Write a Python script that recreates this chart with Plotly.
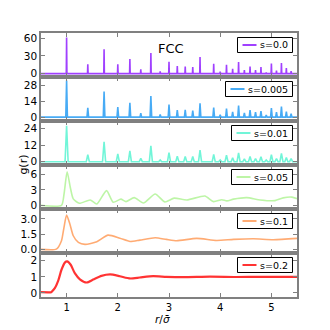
import plotly.graph_objects as go
from plotly.subplots import make_subplots

# FCC neighbour shells (r/sigma) and peak heights
shell_r = [1.0, 1.414, 1.732, 2.0, 2.236, 2.449, 2.646, 2.828, 3.0, 3.162,
           3.317, 3.464, 3.606, 3.873, 4.0, 4.123, 4.243, 4.359, 4.472, 4.583,
           4.690, 4.796, 4.899, 5.0, 5.099, 5.196, 5.292, 5.385]
peaks_s000 = [61, 15.6, 41, 15.6, 24.6, 7.2, 35, 4, 20, 13, 12, 11, 28, 16.8,
              3.6, 15, 8, 19.5, 6, 12, 6, 11, 2, 17, 5, 18, 9.5, 4.5]
peaks_s005 = [32.5, 8.3, 22.7, 8.9, 12.7, 3.5, 18.9, 2.4, 11.2, 6.2, 6.5, 5.9,
              12.4, 8.6, 2.1, 7.7, 4.7, 10.3, 3.8, 6.2, 4.4, 5.3, 2.0, 8.0,
              4.4, 9.4, 5.0, 3.2]
peaks_s010 = [26, 5.0, 14.4, 5.6, 7.8, 2.5, 11.4, 1.3, 6.6, 4.0, 3.8, 3.8, 8.3,
              5.3, 1.3, 4.6, 2.8, 6.3, 2.0, 3.8, 2.3, 3.5, 1.3, 5.0, 2.3, 6.0,
              3.0, 2.3]

# smoother curves for the larger polydispersities
r_s050 = [0.5, 0.9, 0.95, 1.01, 1.07, 1.13, 1.25, 1.46, 1.59, 1.78, 1.91, 2.06,
          2.16, 2.32, 2.5, 2.73, 2.92, 3.1, 3.35, 3.7, 3.87, 4.03, 4.13, 4.26,
          4.52, 4.78, 5.07, 5.23, 5.4, 5.5]
g_s050 = [0.0, 0.0, 2.2, 6.5, 3.6, 1.25, 0.4, 1.05, 0.26, 2.85, 0.6, 1.2,
          0.73, 1.5, 0.46, 2.2, 0.66, 1.4, 1.05, 1.8, 0.73, 1.1, 0.86, 1.2,
          1.5, 1.05, 0.92, 1.45, 1.6, 1.3]

r_s100 = [0.5, 0.8, 0.9, 0.95, 1.0, 1.065, 1.13, 1.23, 1.36, 1.59, 1.81, 2.04,
          2.24, 2.43, 2.73, 2.95, 3.15, 3.54, 3.93, 4.26, 4.65, 5.04, 5.5]
g_s100 = [0.0, 0.02, 0.85, 2.2, 3.39, 2.48, 1.34, 0.68, 0.49, 0.75, 1.4, 1.1,
          0.78, 0.91, 1.14, 0.98, 0.85, 1.08, 0.88, 0.98, 1.04, 0.95, 1.08]

r_s200 = [0.5, 0.7, 0.71, 0.77, 0.84, 0.9, 0.97, 1.01, 1.08, 1.16, 1.26, 1.39,
          1.52, 1.68, 1.85, 2.04, 2.24, 2.43, 2.69, 2.95, 3.28, 3.8, 4.3, 4.8,
          5.5]
g_s200 = [0.05, 0.05, 0.08, 0.3, 0.8, 1.44, 1.9, 1.96, 1.75, 1.23, 0.85, 0.65,
          0.83, 1.06, 1.15, 1.04, 0.9, 0.96, 1.04, 1.0, 0.98, 1.01, 0.99, 1.0,
          1.0]

labels = ["s=0.0", "s=0.005", "s=0.01", "s=0.05", "s=0.1", "s=0.2"]
colors = ["rgba(128,0,255,0.75)", "rgba(25,150,243,0.8)", "rgba(77,243,206,0.8)",
          "rgba(178,243,150,0.85)", "rgba(255,150,80,0.8)", "rgba(255,0,0,0.8)"]
y_ranges = [[-5.7, 68.7], [-3.4, 35.7], [-2.4, 29.4], [-0.7, 7.8],
            [-0.36, 3.98], [-0.25, 2.48]]
y_ticks = [[0, 30, 60], [0, 14, 28], [0, 12, 24], [0, 3, 6], [0, 1.5, 3.0], [0, 1, 2]]


def spikes(heights, half_width):
    # turn each shell peak into a narrow spike on a zero baseline
    xs, ys = [0.5], [0]
    for r, h in zip(shell_r, heights):
        xs += [r - half_width, r, r + half_width]
        ys += [0, h, 0]
    xs.append(5.5)
    ys.append(0)
    return xs, ys


series = [
    spikes(peaks_s000, 0.006),
    spikes(peaks_s005, 0.016),
    spikes(peaks_s010, 0.03),
    (r_s050, g_s050),
    (r_s100, g_s100),
    (r_s200, g_s200),
]

# the page body adds an 8px margin, so the figure is drawn 8px smaller
FIG = 322
L, R, T, B = 33, 289, 25, 289
W, H = R - L, B - T


def px(x):
    return (x - L) / W


def py(y):
    return (B - y) / H


fig = make_subplots(rows=6, cols=1, shared_xaxes=True, vertical_spacing=0)

axis_gray = "#808080"
shapes = []
annotations = []
for i, (xs, ys) in enumerate(series):
    row = i + 1
    fig.add_trace(
        go.Scatter(
            x=xs, y=ys, mode="lines", name=labels[i], showlegend=False,
            line=dict(color=colors[i], width=1.6 if i < 5 else 2.2,
                      shape="linear" if i < 3 else "spline", smoothing=0.6),
        ),
        row=row, col=1,
    )
    fig.update_yaxes(
        range=y_ranges[i], tickvals=y_ticks[i],
        tickformat=".1f" if i == 4 else "d",
        ticks="inside", ticklen=4, tickcolor=axis_gray,
        showline=True, linecolor=axis_gray, linewidth=1.5, mirror="allticks",
        showgrid=False, zeroline=False,
        row=row, col=1,
    )
    fig.update_xaxes(
        range=[0.5, 5.5], tickvals=[1, 2, 3, 4, 5], tickfont=dict(size=10),
        ticks="inside", ticklen=4, tickcolor=axis_gray,
        showline=True, linecolor=axis_gray, linewidth=1.5, mirror="allticks",
        showgrid=False, zeroline=False, showticklabels=(row == 6),
        row=row, col=1,
    )

    # legend box: frame, line sample and label
    box_r = R - 4.5
    box_l = box_r - (25 + 6 * len(labels[i]))
    box_t = T + 44 * i + 4.5
    box_b = box_t + 15
    mid = (box_t + box_b) / 2
    shapes.append(dict(type="rect", xref="paper", yref="paper",
                       x0=px(box_l), x1=px(box_r), y0=py(box_b), y1=py(box_t),
                       line=dict(color="black", width=1), fillcolor="white"))
    shapes.append(dict(type="line", xref="paper", yref="paper",
                       x0=px(box_l + 5), x1=px(box_l + 19), y0=py(mid), y1=py(mid),
                       line=dict(color=colors[i], width=2)))
    annotations.append(dict(text=labels[i], x=px(box_r - 3), y=py(mid),
                            xref="paper", yref="paper", xanchor="right",
                            yanchor="middle", showarrow=False,
                            font=dict(size=9.5)))

annotations += [
    dict(text="FCC", x=0.506, y=0.978, xref="paper", yref="paper",
         showarrow=False, font=dict(size=13)),
    dict(text="g(r)", x=-0.105, y=0.5, xref="paper", yref="paper",
         textangle=-90, showarrow=False, font=dict(size=11)),
    dict(text="<i>r</i>/<i>σ̄</i>", x=0.475, y=-0.112, xref="paper",
         yref="paper", showarrow=False, font=dict(size=10.5)),
]

fig.update_layout(
    width=FIG, height=FIG,
    margin=dict(l=L, r=FIG - R, t=T, b=FIG - B),
    plot_bgcolor="white", paper_bgcolor="white",
    font=dict(family="DejaVu Sans", size=10.5, color="black"),
    shapes=shapes,
    annotations=annotations,
)

fig.write_html("out.html")
